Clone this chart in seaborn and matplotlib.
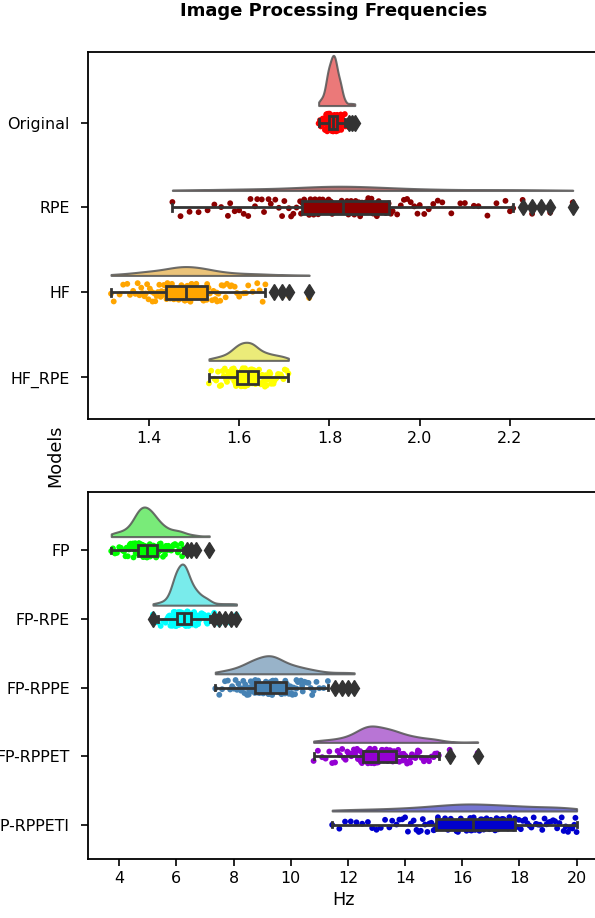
import numpy as np
import pandas as pd
import matplotlib
matplotlib.use("Agg")
import matplotlib.pyplot as plt
from matplotlib.colors import to_rgba
import seaborn as sns

# ---------------- data ----------------
top_models = ["Original", "RPE", "HF", "HF_RPE"]
top_colors = ["red", "darkred", "orange", "yellow"]
bottom_models = ["FP", "FP-RPE", "FP-RPPE", "FP-RPPET", "FP-RPPETI"]
bottom_colors = ["lime", "cyan", "steelblue", "darkviolet", "mediumblue"]

top_xticks = [1.4, 1.6, 1.8, 2.0, 2.2]
bottom_xticks = [4, 6, 8, 10, 12, 14, 16, 18, 20]

original = [1.776, 1.781, 1.785, 1.788, 1.790, 1.792, 1.793, 1.794, 1.795, 1.796, 1.797, 1.797, 1.798, 1.798, 1.799,
            1.800, 1.800, 1.801, 1.802, 1.802, 1.803, 1.804, 1.804, 1.805, 1.805, 1.806, 1.806, 1.807, 1.807, 1.808,
            1.808, 1.809, 1.809, 1.810, 1.810, 1.811, 1.811, 1.812, 1.813, 1.813, 1.814, 1.814, 1.815, 1.816, 1.816,
            1.817, 1.818, 1.819, 1.820, 1.821, 1.822, 1.823, 1.824, 1.825, 1.826, 1.828, 1.835, 1.843, 1.849, 1.856]
original_b = [1.779, 1.783, 1.786, 1.789, 1.791, 1.792, 1.793, 1.794, 1.795, 1.796, 1.796, 1.797, 1.798, 1.799, 1.799,
              1.800, 1.801, 1.801, 1.802, 1.803, 1.803, 1.804, 1.805, 1.805, 1.806, 1.806, 1.807, 1.807, 1.808, 1.808,
              1.809, 1.809, 1.810, 1.810, 1.811, 1.811, 1.812, 1.812, 1.813, 1.813, 1.814, 1.814, 1.815, 1.815, 1.816,
              1.817, 1.817, 1.818, 1.819, 1.820, 1.821, 1.822, 1.823, 1.824, 1.825, 1.826, 1.827, 1.829, 1.831, 1.834]
rpe = [1.452, 1.49, 1.53, 1.56, 1.58, 1.60, 1.62, 1.635, 1.65, 1.665, 1.68, 1.695, 1.71, 1.72, 1.735,
       1.740, 1.748, 1.755, 1.762, 1.768, 1.775, 1.782, 1.788, 1.795, 1.80, 1.806, 1.812, 1.817, 1.822, 1.827,
       1.830, 1.836, 1.842, 1.848, 1.855, 1.862, 1.868, 1.875, 1.882, 1.89, 1.897, 1.905, 1.913, 1.922, 1.931,
       1.936, 1.95, 1.965, 1.98, 1.995, 2.01, 2.03, 2.09, 2.13, 2.207, 2.228, 2.249, 2.269, 2.289, 2.339]
rpe_b = [1.47, 1.51, 1.545, 1.575, 1.59, 1.61, 1.625, 1.64, 1.655, 1.67, 1.688, 1.70, 1.715, 1.727, 1.737,
         1.744, 1.751, 1.758, 1.765, 1.772, 1.778, 1.785, 1.791, 1.798, 1.803, 1.809, 1.814, 1.819, 1.824, 1.828,
         1.833, 1.839, 1.845, 1.852, 1.858, 1.865, 1.872, 1.879, 1.886, 1.893, 1.901, 1.909, 1.917, 1.925, 1.93,
         1.94, 1.958, 1.972, 1.988, 2.0, 2.02, 2.04, 2.05, 2.07, 2.1, 2.12, 2.15, 2.17, 2.19, 2.2]
hf = [1.316, 1.335, 1.352, 1.365, 1.375, 1.383, 1.39, 1.396, 1.402, 1.408, 1.414, 1.42, 1.426, 1.431, 1.436,
      1.439, 1.443, 1.447, 1.451, 1.455, 1.458, 1.461, 1.464, 1.467, 1.47, 1.472, 1.475, 1.477, 1.479, 1.481,
      1.484, 1.487, 1.49, 1.494, 1.497, 1.5, 1.504, 1.507, 1.51, 1.514, 1.517, 1.52, 1.523, 1.526, 1.528,
      1.532, 1.54, 1.547, 1.55, 1.554, 1.561, 1.57, 1.58, 1.595, 1.62, 1.658, 1.677, 1.694, 1.71, 1.755]
hf_b = [1.322, 1.343, 1.358, 1.37, 1.379, 1.386, 1.393, 1.399, 1.405, 1.411, 1.417, 1.423, 1.428, 1.433, 1.437,
        1.441, 1.445, 1.449, 1.453, 1.456, 1.46, 1.463, 1.466, 1.468, 1.471, 1.474, 1.476, 1.478, 1.48, 1.482,
        1.485, 1.489, 1.492, 1.495, 1.499, 1.502, 1.505, 1.509, 1.512, 1.515, 1.518, 1.521, 1.524, 1.527, 1.529,
        1.535, 1.543, 1.551, 1.558, 1.565, 1.573, 1.583, 1.59, 1.6, 1.61, 1.615, 1.63, 1.64, 1.645, 1.652]
hf_rpe = [1.533, 1.545, 1.553, 1.56, 1.566, 1.571, 1.575, 1.579, 1.582, 1.585, 1.588, 1.59, 1.592, 1.593, 1.594,
          1.596, 1.598, 1.6, 1.602, 1.604, 1.605, 1.607, 1.608, 1.609, 1.61, 1.611, 1.613, 1.614, 1.616, 1.617,
          1.619, 1.621, 1.623, 1.625, 1.626, 1.627, 1.628, 1.629, 1.63, 1.631, 1.633, 1.635, 1.638, 1.64, 1.642,
          1.645, 1.648, 1.651, 1.654, 1.657, 1.661, 1.665, 1.669, 1.673, 1.678, 1.683, 1.688, 1.694, 1.701, 1.709]
hf_rpe_b = [1.538, 1.549, 1.557, 1.563, 1.568, 1.573, 1.577, 1.581, 1.584, 1.587, 1.589, 1.591, 1.592, 1.593, 1.595,
            1.597, 1.599, 1.601, 1.603, 1.604, 1.606, 1.607, 1.608, 1.609, 1.61, 1.612, 1.613, 1.615, 1.616, 1.618,
            1.62, 1.622, 1.624, 1.625, 1.626, 1.627, 1.628, 1.629, 1.63, 1.632, 1.634, 1.636, 1.637, 1.639, 1.641,
            1.644, 1.647, 1.65, 1.653, 1.656, 1.659, 1.663, 1.667, 1.671, 1.676, 1.681, 1.686, 1.692, 1.698, 1.705]

fp = [3.72, 3.85, 4.0, 4.12, 4.22, 4.3, 4.37, 4.43, 4.48, 4.52, 4.56, 4.59, 4.62, 4.64, 4.65,
      4.67, 4.69, 4.71, 4.73, 4.75, 4.77, 4.79, 4.81, 4.83, 4.85, 4.87, 4.89, 4.91, 4.93, 4.95,
      4.97, 4.99, 5.01, 5.03, 5.05, 5.07, 5.1, 5.12, 5.14, 5.17, 5.19, 5.22, 5.25, 5.28, 5.3,
      5.33, 5.38, 5.44, 5.5, 5.57, 5.64, 5.72, 5.82, 5.95, 6.1, 6.24, 6.38, 6.52, 6.7, 7.15]
fp_b = [3.78, 3.92, 4.06, 4.17, 4.26, 4.34, 4.4, 4.46, 4.5, 4.54, 4.575, 4.6, 4.63, 4.645, 4.66,
        4.68, 4.7, 4.72, 4.74, 4.76, 4.78, 4.8, 4.82, 4.84, 4.86, 4.88, 4.9, 4.92, 4.94, 4.96,
        4.98, 5.0, 5.02, 5.04, 5.06, 5.08, 5.11, 5.13, 5.15, 5.18, 5.2, 5.23, 5.26, 5.29, 5.3,
        5.35, 5.41, 5.47, 5.53, 5.6, 5.68, 5.77, 5.88, 6.02, 6.17, 6.2, 6.05, 5.9, 5.55, 5.45]
fp_rpe = [5.18, 5.35, 5.55, 5.68, 5.76, 5.82, 5.86, 5.89, 5.92, 5.94, 5.96, 5.97, 5.98, 5.99, 6.0,
          6.02, 6.04, 6.06, 6.08, 6.1, 6.12, 6.14, 6.16, 6.17, 6.19, 6.2, 6.21, 6.22, 6.23, 6.24,
          6.26, 6.27, 6.28, 6.29, 6.3, 6.31, 6.33, 6.35, 6.37, 6.39, 6.41, 6.43, 6.45, 6.47, 6.49,
          6.52, 6.56, 6.6, 6.65, 6.7, 6.76, 6.83, 6.92, 7.02, 7.18, 7.32, 7.5, 7.7, 7.9, 8.1]
fp_rpe_b = [5.45, 5.62, 5.72, 5.79, 5.84, 5.875, 5.905, 5.93, 5.95, 5.965, 5.975, 5.985, 5.99, 5.995, 6.005,
            6.03, 6.05, 6.07, 6.09, 6.11, 6.13, 6.15, 6.165, 6.18, 6.195, 6.205, 6.215, 6.225, 6.235, 6.25,
            6.265, 6.275, 6.285, 6.295, 6.305, 6.32, 6.34, 6.36, 6.38, 6.4, 6.42, 6.44, 6.46, 6.48, 6.495,
            6.54, 6.58, 6.62, 6.67, 6.73, 6.79, 6.87, 6.97, 7.08, 7.12, 6.63, 6.68, 6.75, 6.9, 7.05]
fp_rppe = [7.36, 7.6, 7.8, 7.95, 8.07, 8.17, 8.26, 8.34, 8.41, 8.47, 8.53, 8.58, 8.63, 8.67, 8.7,
           8.74, 8.78, 8.82, 8.86, 8.9, 8.94, 8.98, 9.02, 9.06, 9.1, 9.13, 9.16, 9.19, 9.22, 9.24,
           9.27, 9.3, 9.33, 9.36, 9.39, 9.42, 9.45, 9.49, 9.53, 9.57, 9.61, 9.66, 9.7, 9.75, 9.8,
           9.86, 9.94, 10.02, 10.1, 10.2, 10.3, 10.42, 10.55, 10.7, 10.9, 11.3, 11.56, 11.79, 12.02, 12.22]
fp_rppe_b = [7.5, 7.7, 7.88, 8.01, 8.12, 8.22, 8.3, 8.38, 8.44, 8.5, 8.56, 8.6, 8.65, 8.69, 8.72,
             8.76, 8.8, 8.84, 8.88, 8.92, 8.96, 9.0, 9.04, 9.08, 9.12, 9.15, 9.18, 9.2, 9.23, 9.25,
             9.28, 9.32, 9.35, 9.38, 9.41, 9.44, 9.47, 9.51, 9.55, 9.59, 9.64, 9.68, 9.72, 9.77, 9.81,
             9.9, 9.98, 10.06, 10.15, 10.25, 10.36, 10.48, 10.62, 10.8, 11.0, 11.15, 10.0, 10.2, 10.4, 10.75]
fp_rppet = [10.8, 11.1, 11.35, 11.55, 11.72, 11.86, 11.98, 12.08, 12.17, 12.25, 12.32, 12.38, 12.43, 12.47, 12.5,
            12.54, 12.58, 12.62, 12.65, 12.68, 12.71, 12.74, 12.77, 12.8, 12.84, 12.88, 12.92, 12.96, 13.0, 13.03,
            13.06, 13.1, 13.14, 13.19, 13.24, 13.29, 13.33, 13.37, 13.41, 13.45, 13.5, 13.55, 13.6, 13.64, 13.68,
            13.73, 13.8, 13.88, 13.97, 14.07, 14.18, 14.3, 14.43, 14.58, 14.75, 14.93, 15.05, 15.18, 15.56, 16.54]
fp_rppet_b = [10.95, 11.22, 11.45, 11.64, 11.8, 11.92, 12.03, 12.12, 12.21, 12.28, 12.35, 12.4, 12.45, 12.49, 12.52,
              12.56, 12.6, 12.63, 12.66, 12.7, 12.72, 12.75, 12.78, 12.82, 12.86, 12.9, 12.94, 12.98, 13.01, 13.04,
              13.08, 13.12, 13.16, 13.21, 13.26, 13.31, 13.35, 13.39, 13.43, 13.47, 13.52, 13.57, 13.62, 13.66, 13.69,
              13.76, 13.84, 13.92, 14.02, 14.12, 14.24, 14.36, 14.5, 14.66, 14.84, 15.0, 15.12, 13.95, 14.2, 14.45]
fp_rppeti = [11.45, 11.9, 12.3, 12.7, 13.0, 13.3, 13.55, 13.8, 14.0, 14.2, 14.4, 14.55, 14.7, 14.85, 15.0,
             15.1, 15.2, 15.3, 15.4, 15.5, 15.6, 15.7, 15.8, 15.9, 16.0, 16.08, 16.15, 16.22, 16.28, 16.33,
             16.4, 16.5, 16.6, 16.7, 16.8, 16.9, 17.0, 17.1, 17.2, 17.3, 17.4, 17.5, 17.6, 17.7, 17.8,
             17.9, 18.05, 18.2, 18.35, 18.5, 18.65, 18.8, 18.95, 19.1, 19.25, 19.4, 19.55, 19.7, 19.85, 20.0]
fp_rppeti_b = [11.7, 12.1, 12.5, 12.85, 13.15, 13.45, 13.7, 13.9, 14.1, 14.3, 14.48, 14.62, 14.78, 14.92, 15.05,
               15.15, 15.25, 15.35, 15.45, 15.55, 15.65, 15.75, 15.85, 15.95, 16.04, 16.12, 16.18, 16.25, 16.3, 16.36,
               16.45, 16.55, 16.65, 16.75, 16.85, 16.95, 17.05, 17.15, 17.25, 17.35, 17.45, 17.55, 17.65, 17.75, 17.85,
               17.98, 18.12, 18.28, 18.42, 18.58, 18.72, 18.88, 19.02, 19.18, 19.32, 19.48, 19.62, 19.78, 19.92, 19.96]

top_values = [original + original_b, rpe + rpe_b, hf + hf_b, hf_rpe + hf_rpe_b]
bottom_values = [fp + fp_b, fp_rpe + fp_rpe_b, fp_rppe + fp_rppe_b,
                 fp_rppet + fp_rppet_b, fp_rppeti + fp_rppeti_b]


def long_df(models, arrays):
    return pd.DataFrame({
        "Model": np.repeat(models, [len(a) for a in arrays]),
        "Hz": np.concatenate([np.asarray(a, float) for a in arrays]),
    })


LINE = "#333333"


def raincloud(ax, df, order, colors, viol_width, offset=0.2):
    pal = dict(zip(order, colors))
    n0 = len(ax.collections)
    sns.violinplot(data=df, x="Hz", y="Model", hue="Model", order=order, hue_order=order,
                   palette=pal, orient="h", cut=0, inner=None, density_norm="area",
                   common_norm=True, bw_method=0.3,
                   width=viol_width, linewidth=1.5, saturation=0.75, legend=False, ax=ax)
    for coll in ax.collections[n0:]:
        new = []
        for p in coll.get_paths():
            v = p.vertices.copy()
            c = (v[:, 1].max() + v[:, 1].min()) / 2.0
            v[:, 1] = np.minimum(v[:, 1], c) - offset
            new.append(v)
        fc = coll.get_facecolor()[0]
        coll.set_verts(new)
        coll.set_facecolor(to_rgba(fc, 0.6))
        coll.set_edgecolor(to_rgba("#555555", 0.85))
        coll.set_linewidth(1.5)
        coll.set_zorder(1)

    np.random.seed(3)
    sns.stripplot(data=df, x="Hz", y="Model", hue="Model", order=order, hue_order=order,
                  palette=pal, orient="h", size=4.2, jitter=0.11, linewidth=0,
                  legend=False, ax=ax, zorder=2)

    sns.boxplot(data=df, x="Hz", y="Model", hue="Model", order=order, hue_order=order,
                palette=pal, orient="h", width=0.16, linewidth=2, linecolor=LINE,
                saturation=1, fliersize=8.5,
                flierprops=dict(marker="d", markerfacecolor=LINE, markeredgecolor=LINE),
                legend=False, ax=ax, zorder=3)


fig = plt.figure(figsize=(5.95, 9.18), dpi=100)
ax1 = fig.add_axes([88 / 595, 1 - 419 / 918, 510 / 595, (419 - 52) / 918])
ax2 = fig.add_axes([88 / 595, 1 - 859 / 918, 510 / 595, (859 - 492) / 918])

raincloud(ax1, long_df(top_models, top_values), top_models, top_colors, 1.18)
raincloud(ax2, long_df(bottom_models, bottom_values), bottom_models, bottom_colors, 1.2)

ax1.set_xlim(1.265, 2.395)
ax1.set_ylim(3.49, -0.83)
ax2.set_xlim(2.907, 20.75)
ax2.set_ylim(4.5, -0.85)
ax1.set_xticks(top_xticks)
ax1.set_xticklabels([f"{t:.1f}" for t in top_xticks])
ax2.set_xticks(bottom_xticks)
ax2.set_xticklabels([str(t) for t in bottom_xticks])

for ax in (ax1, ax2):
    ax.set_ylabel("")
    ax.set_xlabel("")
    ax.tick_params(labelsize=11.4, length=5, width=1.2)
    ax.tick_params(axis="y", pad=8)
    for s in ax.spines.values():
        s.set_linewidth(1.3)

ax2.set_xlabel("Hz", fontsize=12.7)
fig.text(55 / 595, 0.503, "Models", rotation=90, ha="center", va="center", fontsize=12.7)
fig.text(334 / 595, 1 - 11 / 918, "Image Processing Frequencies", ha="center", va="center",
         fontsize=13, fontweight="bold")

fig.savefig("out.png", dpi=100)
